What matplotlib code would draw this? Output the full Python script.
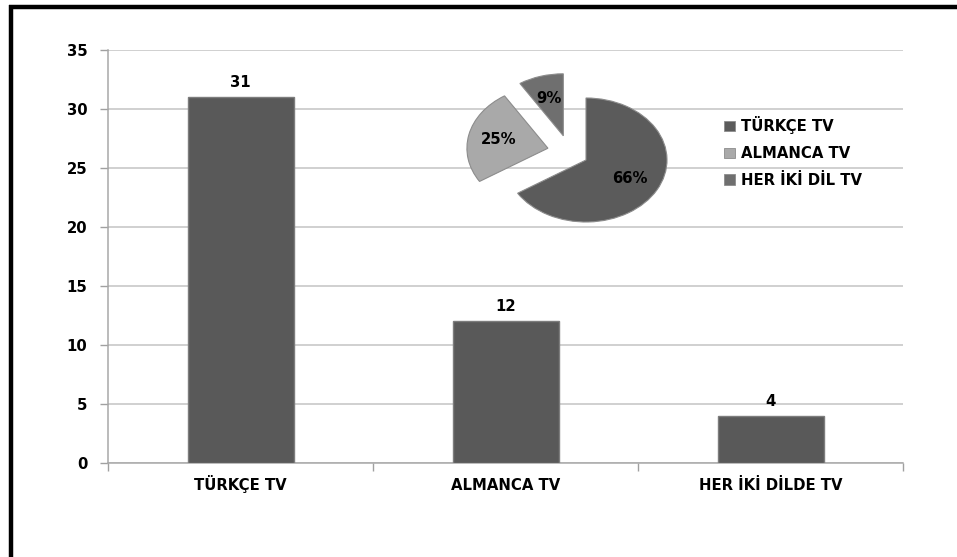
import matplotlib
matplotlib.use("Agg")
import matplotlib.pyplot as plt
from matplotlib.lines import Line2D
from matplotlib.patches import Patch
import numpy as np

plt.rcParams['font.family'] = ['DejaVu Sans']

categories = ["TÜRKÇE TV", "ALMANCA TV", "HER İKİ DİLDE TV"]
counts = [31, 12, 4]
y_ticks = [0, 5, 10, 15, 20, 25, 30, 35]

pie_labels = ["TÜRKÇE TV", "ALMANCA TV", "HER İKİ DİL TV"]
pie_shares = [66, 25, 9]
pie_colors = ["#5b5b5b", "#a9a9a9", "#6f6f6f"]
# pulled-out slices: offset of each wedge's apex (in pie radius units)
slice_offsets = [(0.0, 0.0), (-0.47, 0.19), (-0.28, 0.39)]

W, H = 957, 557
fig = plt.figure(figsize=(W / 100, H / 100), dpi=100)
fig.patch.set_facecolor("white")

def fx(px):
    return px / W

def fy(py):
    return 1 - py / H

# Frame lines around the chart area (left and top)
fig.add_artist(Line2D([fx(10.5), fx(10.5)], [0, fy(5)], color="black", lw=3.2,
                      transform=fig.transFigure, solid_capstyle="butt"))
fig.add_artist(Line2D([fx(9), 1], [fy(6.5), fy(6.5)], color="black", lw=3.2,
                      transform=fig.transFigure, solid_capstyle="butt"))

FS = 10.7

# Bar chart
ax = fig.add_axes([fx(108), fy(463), fx(903) - fx(108), fy(50) - fy(463)])
x = np.arange(len(categories))
bars = ax.bar(x, counts, width=0.4, color="#595959", edgecolor="#7d7d7d",
              linewidth=1.0, zorder=3)
for b, v in zip(bars, counts):
    ax.annotate(str(v), (b.get_x() + b.get_width() / 2, v), xytext=(0, 5),
                textcoords="offset points", ha="center", va="bottom",
                fontsize=FS, fontweight="bold", color="black")

ax.set_xlim(-0.5, len(categories) - 0.5)
ax.set_ylim(0, 35)
ax.set_yticks(y_ticks)
ax.set_yticklabels([str(t) for t in y_ticks], fontsize=FS, fontweight="bold")
ax.grid(axis="y", color="#c4c4c4", lw=1.1, zorder=0)
ax.set_axisbelow(True)

ax.set_xticks(np.arange(-0.5, len(categories)), minor=False)
ax.set_xticklabels([])
ax.set_xticks(x, minor=True)
ax.set_xticklabels(categories, minor=True, fontsize=FS, fontweight="bold",
                   va="baseline")
ax.tick_params(axis="x", which="major", length=6, color="#a0a0a0", width=1)
ax.tick_params(axis="x", which="minor", length=0, pad=19.5)
ax.tick_params(axis="y", length=6, color="#a0a0a0", width=1, pad=9)
for s in ["top", "right"]:
    ax.spines[s].set_visible(False)
for s in ["left", "bottom"]:
    ax.spines[s].set_color("#a8a8a8")
    ax.spines[s].set_linewidth(1.1)

# Pie inset (flattened into an ellipse)
cx, cy, rx, ry = 586, 160, 81, 62
span = 1.6
pax = fig.add_axes([fx(cx - rx * span), fy(cy + ry * span),
                    fx(2 * rx * span), (2 * ry * span) / H])
wedges, texts, autotexts = pax.pie(
    pie_shares, colors=pie_colors, startangle=90, counterclock=False,
    autopct="%d%%", pctdistance=0.62,
    wedgeprops=dict(edgecolor="#8c8c8c", linewidth=0.8),
    textprops=dict(fontsize=FS, fontweight="bold", color="black"))
for w, t, (dx, dy) in zip(wedges, autotexts, slice_offsets):
    w.set_center((dx, dy))
    tx, ty = t.get_position()
    t.set_position((tx + dx, ty + dy))
pax.set_aspect("auto")
pax.set_xlim(-span, span)
pax.set_ylim(-span, span)
pax.axis("off")

# Legend for the pie
handles = [Patch(facecolor=c, edgecolor="#8c8c8c", lw=0.6) for c in pie_colors]
fig.legend(handles, pie_labels, loc="upper left",
           bbox_to_anchor=(fx(711), fy(103)), frameon=False,
           prop=dict(size=FS, weight="bold"), handlelength=0.7,
           handleheight=0.7, handletextpad=0.45, labelspacing=0.78)

fig.savefig("out.png", dpi=100, facecolor="white")
